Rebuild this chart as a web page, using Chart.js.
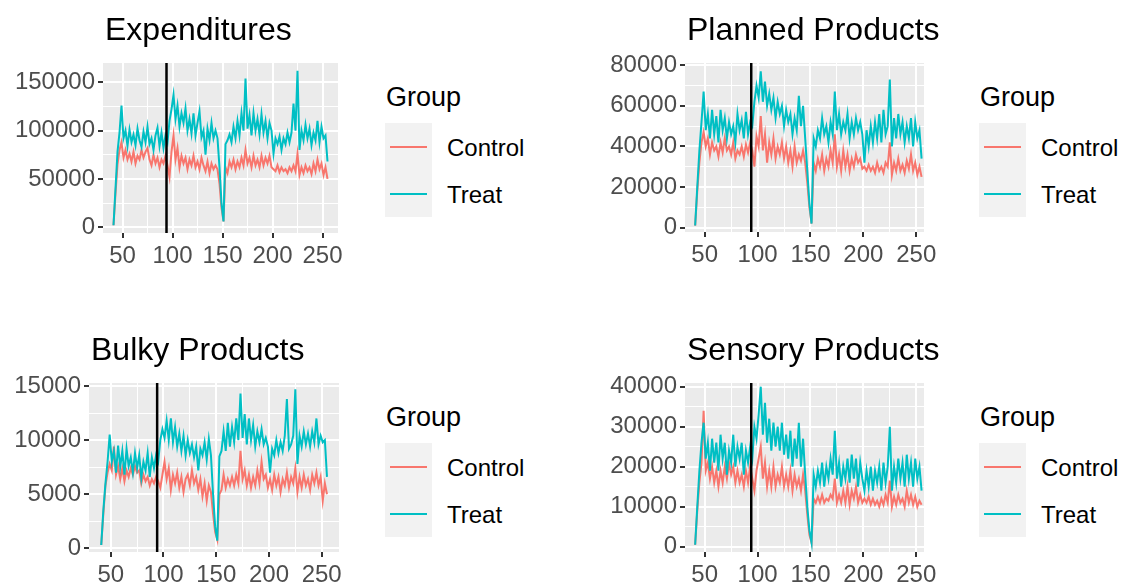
<!DOCTYPE html>
<html>
<head>
<meta charset="utf-8">
<script src="https://cdn.jsdelivr.net/npm/chart.js@4.4.1/dist/chart.umd.min.js"></script>
<style>
html,body{margin:0;padding:0;background:#ffffff;width:1123px;height:588px;overflow:hidden;font-family:"Liberation Sans",Arial,sans-serif;}
canvas{position:absolute;}
.title{position:absolute;font-size:32px;line-height:32px;color:#000;white-space:nowrap;}
.lg-title{position:absolute;font-size:27px;line-height:27px;color:#000;white-space:nowrap;}
.lg-key{position:absolute;background:#F2F2F2;width:47px;height:94px;}
.lg-line{position:absolute;height:2px;width:37px;}
.lg-lab{position:absolute;font-size:24px;line-height:24px;color:#000;white-space:nowrap;}
</style>
</head>
<body>
<script>
// ---------- DATA ----------
const days = [41,43,45,47,49,51,53,55,57,59,
61,63,65,67,69,71,73,75,77,79,
81,83,85,87,89,91,93,95,97,99,
101,103,105,107,109,111,113,115,117,119,
121,123,125,127,129,131,133,135,137,139,
141,143,145,147,149,151,153,155,157,159,
161,163,165,167,169,171,173,175,177,179,
181,183,185,187,189,191,193,195,197,199,
201,203,205,207,209,211,213,215,217,219,
221,223,225,227,229,231,233,235,237,239,
241,243,245,247,249,251,253,255];

const groups = ["Control", "Treat"];
const groupColors = ["#F8766D", "#00BFC4"];
const interventionDay = 94;

const expControl = [2000,35000,65000,80000,88000,72000,80000,70000,76000,68000,
78000,66000,74000,70000,80000,72000,78000,82000,70000,64000,
75000,66000,72000,62000,70000,66000,74000,64000,52000,78000,
95000,70000,82000,62000,74000,66000,72000,60000,70000,64000,
74000,62000,68000,60000,72000,64000,58000,68000,56000,66000,
60000,64000,60000,45000,20000,6000,62000,56000,68000,62000,
70000,60000,68000,62000,72000,64000,80000,66000,72000,62000,
74000,64000,70000,62000,74000,64000,72000,66000,74000,62000,
60000,58000,64000,57000,62000,58000,60000,56000,62000,58000,
64000,58000,76000,54000,62000,56000,64000,58000,62000,55000,
66000,58000,70000,60000,66000,54000,62000,50000];
const expTreat = [2000,40000,78000,98000,126000,92000,100000,84000,101000,88000,
96000,85000,102000,90000,83000,99000,88000,104000,86000,92000,
80000,95000,103000,84000,98000,82000,95000,88000,110000,122000,
137000,112000,126000,104000,118000,108000,123000,100000,112000,97000,
118000,95000,108000,120000,93000,100000,75000,102000,90000,108000,
92000,100000,92000,62000,25000,6000,86000,90000,96000,88000,
104000,92000,110000,95000,118000,100000,154000,102000,116000,95000,
118000,100000,112000,96000,117000,98000,110000,92000,108000,100000,
76000,92000,86000,94000,80000,92000,86000,98000,88000,98000,
128000,100000,162000,80000,100000,90000,106000,92000,102000,85000,
98000,90000,110000,88000,104000,92000,95000,68000];

const planControl = [1000,18000,32000,42000,47000,40000,44000,36000,42000,38000,
40000,35000,42000,37000,44000,38000,40000,36000,42000,34000,
38000,36000,40000,35000,41000,37000,42000,38000,30000,45000,
40000,55000,38000,46000,32000,42000,36000,44000,34000,40000,
36000,42000,34000,40000,32000,38000,30000,40000,32000,36000,
33000,38000,32000,22000,10000,2000,32000,28000,34000,30000,
36000,28000,34000,30000,38000,32000,46000,30000,36000,28000,
38000,30000,36000,28000,34000,30000,36000,32000,34000,29000,
30000,28000,31000,28000,30000,27000,32000,28000,30000,27000,
32000,30000,42000,26000,32000,28000,34000,28000,31000,27000,
33000,29000,36000,28000,32000,26000,30000,25000];
const planTreat = [1000,20000,38000,52000,67000,48000,56000,44000,58000,46000,
55000,42000,58000,48000,54000,44000,52000,46000,50000,42000,
56000,48000,53000,44000,57000,46000,52000,50000,62000,70000,
64000,77000,62000,72000,60000,66000,58000,64000,54000,62000,
56000,60000,50000,58000,52000,56000,46000,54000,48000,65000,
50000,60000,44000,28000,12000,2000,44000,40000,48000,44000,
54000,46000,50000,42000,52000,46000,67000,48000,56000,46000,
52000,48000,56000,44000,52000,46000,54000,48000,52000,46000,
32000,48000,40000,50000,42000,52000,44000,56000,42000,58000,
46000,50000,73000,40000,54000,44000,56000,46000,52000,42000,
50000,44000,54000,40000,52000,44000,48000,34000];

const bulkyControl = [300,3200,5800,7000,7800,7200,9400,6800,7600,6400,
7400,6200,7200,6600,7400,6800,7600,7000,7200,6000,
6800,6200,6600,5800,6400,6000,6600,6200,5600,6800,
8000,6400,7400,5400,6800,6000,7000,5600,6600,5200,
6400,6800,5800,7200,6000,6600,5400,6400,4800,6000,
4400,5800,5200,3200,1500,800,5000,5400,6800,5600,
6400,5800,6600,5800,6800,6000,9000,6400,7200,5800,
6800,5600,6600,5800,7200,6000,8000,6400,6800,5600,
6400,5400,6800,5800,6600,5200,6400,5800,7000,5600,
6600,6000,7400,5200,6600,5600,6800,5800,6400,5400,
6800,6000,7000,5800,6600,4400,6000,5000];
const bulkyTreat = [300,3500,6000,8000,10500,8000,9000,7000,9500,7500,
9000,6800,9200,7600,8400,7000,8800,7400,8600,6500,
8000,7200,8800,6600,8400,7400,8600,8000,10000,11000,
10200,11800,10000,12000,9800,11200,9400,10600,9000,10400,
8600,10000,8800,9600,8400,9400,7200,9200,8600,9800,
8200,10100,8600,5000,2000,700,8500,9000,10800,9000,
11600,9400,11200,9800,12000,10000,14300,10200,12400,9600,
12000,10000,11400,9400,10800,9800,11000,9600,10200,9400,
7000,9200,8600,10000,8800,9800,9000,10400,13800,9200,
9600,10400,14700,7800,10400,9400,10800,9600,10600,9400,
10800,9800,12000,9600,10400,9800,10000,6600];

const sensControl = [500,9000,16000,21000,34000,19000,21000,17000,20000,16000,
19000,15000,19000,16000,20000,17000,21000,18000,20000,16000,
19000,16000,18000,15000,19000,16000,20000,17000,14000,19000,
22000,25000,17000,21000,15000,19000,15000,20000,15000,18000,
16000,20000,15000,18000,15000,19000,14000,18000,15000,17000,
14000,18000,14000,8000,3000,1000,12000,11000,12500,11000,
13000,11000,12000,11500,13000,12000,17000,11000,13000,11000,
14000,11000,15000,10500,14000,12000,15000,11000,13000,11000,
12000,11000,12500,10500,12000,10500,11500,10000,12000,10500,
13000,11000,16500,10000,12500,10500,13000,11000,12000,10000,
14000,11000,13000,10500,12500,10000,11500,10500];
const sensTreat = [500,10000,19000,26000,31000,22000,26000,19000,27000,21000,
26000,19000,28000,22000,26000,18000,24000,21000,28000,20000,
25000,22000,26000,18000,24000,21000,25000,22000,30000,27000,
33000,40000,28000,36000,26000,32000,24000,31000,25000,30000,
24000,31000,23000,28000,22000,29000,20000,27000,22000,31000,
20000,27000,18000,10000,4000,1000,18000,15000,19000,16000,
21000,15000,20000,17000,22000,18000,29000,17000,21000,15000,
20000,17000,22000,16000,23000,17000,22000,15000,21000,17000,
14000,19000,15000,20000,14000,19000,16000,20000,14000,21000,
16000,20000,30000,14000,20000,16000,22000,17000,21000,15000,
23000,17000,21000,15000,22000,17000,20000,14000];

const xTicks = [50, 100, 150, 200, 250];
const yTicksExp = [0, 50000, 100000, 150000];
const yTicksPlan = [0, 20000, 40000, 60000, 80000];
const yTicksBulky = [0, 5000, 10000, 15000];
const yTicksSens = [0, 10000, 20000, 30000, 40000];

const titles = ["Expenditures", "Planned Products", "Bulky Products", "Sensory Products"];

// ---------- LAYOUT ----------
const panels = [
  {title: titles[0], control: expControl, treat: expTreat, yTicks: yTicksExp,
   box: {L:103, R:338, T:63, B:233}, xr: [30.5, 265.5], yr: [-6000, 170000], legendX: 385, row: 0},
  {title: titles[1], control: planControl, treat: planTreat, yTicks: yTicksPlan,
   box: {L:685, R:924, T:63, B:232}, xr: [31.4, 257.3], yr: [-2170, 81120], legendX: 979, row: 0},
  {title: titles[2], control: bulkyControl, treat: bulkyTreat, yTicks: yTicksBulky,
   box: {L:89, R:339, T:383, B:552}, xr: [29.4, 266.4], yr: [-342, 15277], legendX: 385, row: 1},
  {title: titles[3], control: sensControl, treat: sensTreat, yTicks: yTicksSens,
   box: {L:685, R:924, T:383, B:552}, xr: [31.4, 257.3], yr: [-1325, 40925], legendX: 979, row: 1}
];

const FONT = '"Liberation Sans", Arial, sans-serif';

function withMinors(majors, lo, hi) {
  const step = majors[1] - majors[0];
  const all = [];
  const first = majors[0] - step / 2;
  for (let v = first; v <= majors[majors.length - 1] + step / 2 + 1e-9; v += step / 2) {
    if (v >= lo && v <= hi) all.push(v);
  }
  return all;
}

const panelBg = {
  id: 'panelBg',
  beforeDraw(chart) {
    const a = chart.chartArea, c = chart.ctx;
    c.save(); c.fillStyle = '#EBEBEB';
    c.fillRect(a.left, a.top, a.right - a.left, a.bottom - a.top);
    c.restore();
  }
};
const vline = {
  id: 'vline',
  afterDatasetsDraw(chart) {
    const a = chart.chartArea, c = chart.ctx;
    const px = chart.scales.x.getPixelForValue(interventionDay);
    c.save(); c.strokeStyle = '#000000'; c.lineWidth = 2.5;
    c.beginPath(); c.moveTo(px, a.top); c.lineTo(px, a.bottom); c.stroke();
    c.restore();
  }
};

function addDiv(cls, left, top, text, extra) {
  const d = document.createElement('div');
  d.className = cls;
  d.style.left = left + 'px';
  d.style.top = top + 'px';
  if (text) d.textContent = text;
  if (extra) Object.assign(d.style, extra);
  document.body.appendChild(d);
  return d;
}

panels.forEach((p, idx) => {
  const b = p.box;
  const yAxisW = 100, padTop = 20, padRight = 20, xAxisH = 45;
  const cx = b.L - yAxisW, cy = b.T - padTop;
  const cw = (b.R - cx) + padRight, ch = (b.B - cy) + xAxisH;
  const cv = document.createElement('canvas');
  cv.width = cw; cv.height = ch;
  cv.style.left = cx + 'px'; cv.style.top = cy + 'px';
  cv.style.width = cw + 'px'; cv.style.height = ch + 'px';
  document.body.appendChild(cv);

  const xAll = withMinors(xTicks, p.xr[0], p.xr[1]);
  const yAll = withMinors(p.yTicks, p.yr[0], p.yr[1]);
  const isMajX = v => xTicks.includes(v);
  const isMajY = v => p.yTicks.includes(v);

  new Chart(cv, {
    type: 'line',
    data: {
      datasets: [
        {label: groups[0], data: days.map((d, i) => ({x: d, y: p.control[i]})),
         borderColor: groupColors[0], borderWidth: 2, pointRadius: 0, tension: 0, order: 2},
        {label: groups[1], data: days.map((d, i) => ({x: d, y: p.treat[i]})),
         borderColor: groupColors[1], borderWidth: 2, pointRadius: 0, tension: 0, order: 1}
      ]
    },
    options: {
      responsive: false, animation: false, events: [],
      layout: {padding: {left: 0, top: padTop, right: padRight, bottom: 0}},
      plugins: {legend: {display: false}, tooltip: {enabled: false}, title: {display: false}},
      scales: {
        x: {
          type: 'linear', min: p.xr[0], max: p.xr[1],
          afterBuildTicks: s => { s.ticks = xAll.map(v => ({value: v})); },
          afterFit: s => { s.height = xAxisH; },
          border: {display: false},
          grid: {
            color: '#FFFFFF',
            lineWidth: ctx => isMajX(ctx.tick.value) ? 2 : 1,
            tickColor: ctx => isMajX(ctx.tick.value) ? '#333333' : 'rgba(0,0,0,0)',
            tickLength: 5, tickWidth: 2
          },
          ticks: {
            autoSkip: false, maxRotation: 0, padding: 4, color: '#4D4D4D',
            font: {family: FONT, size: 24},
            callback: v => isMajX(v) ? String(v) : ''
          }
        },
        y: {
          type: 'linear', min: p.yr[0], max: p.yr[1],
          afterBuildTicks: s => { s.ticks = yAll.map(v => ({value: v})); },
          afterFit: s => { s.width = yAxisW; },
          border: {display: false},
          grid: {
            color: '#FFFFFF',
            lineWidth: ctx => isMajY(ctx.tick.value) ? 2 : 1,
            tickColor: ctx => isMajY(ctx.tick.value) ? '#333333' : 'rgba(0,0,0,0)',
            tickLength: 5, tickWidth: 2
          },
          ticks: {
            autoSkip: false, padding: 3, color: '#4D4D4D',
            font: {family: FONT, size: 24},
            callback: v => isMajY(v) ? String(v) : ''
          }
        }
      }
    },
    plugins: [panelBg, vline]
  });

  // title
  addDiv('title', b.L + 2, 13 + p.row * 320, p.title);
  // legend
  const lx = p.legendX, oy = p.row * 320;
  addDiv('lg-title', lx + 1, 84 + oy, 'Group');
  addDiv('lg-key', lx, 123 + oy, '');
  addDiv('lg-line', lx + 5, 146 + oy, '', {background: groupColors[0]});
  addDiv('lg-line', lx + 5, 193 + oy, '', {background: groupColors[1]});
  addDiv('lg-lab', lx + 62, 136 + oy, groups[0]);
  addDiv('lg-lab', lx + 62, 183 + oy, groups[1]);
});
</script>
</body>
</html>
